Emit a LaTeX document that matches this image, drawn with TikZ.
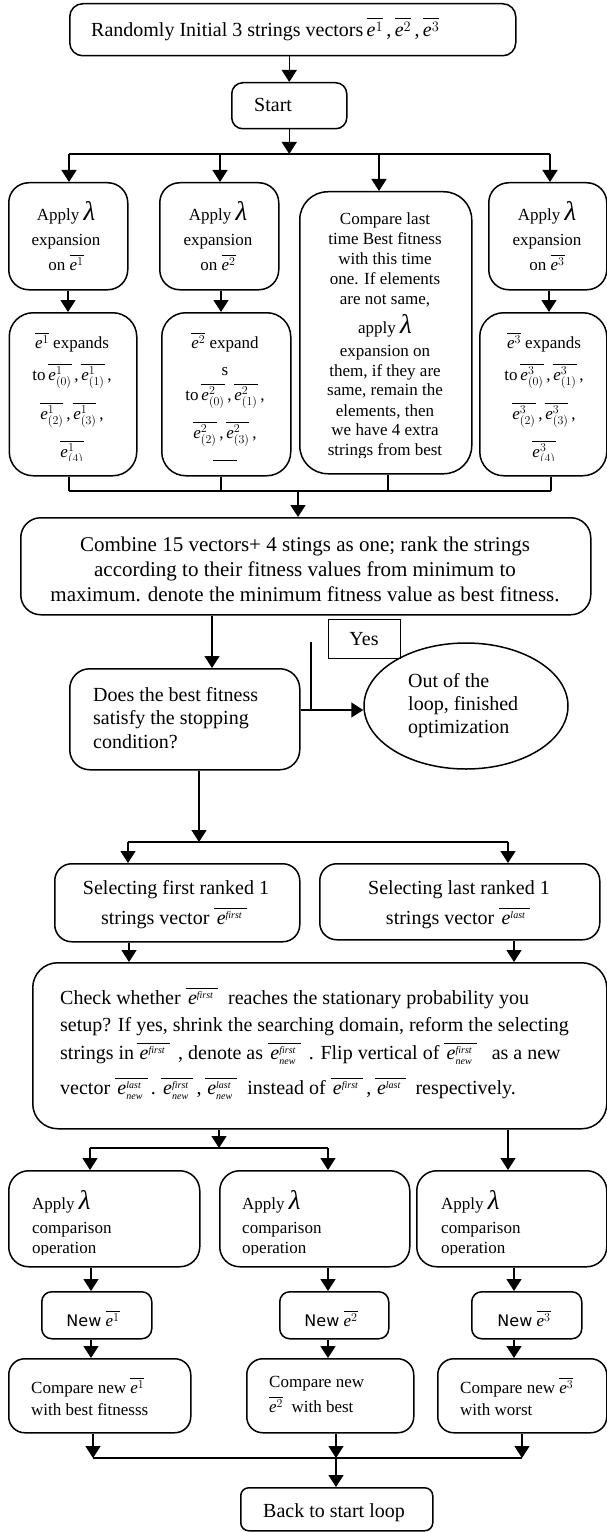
\documentclass[tikz,border=0pt]{standalone}
\usepackage{amsmath}
\usepackage{fontspec}
\setmainfont{Liberation Serif}
\newfontfamily\dejavu{DejaVu Sans}
\usetikzlibrary{arrows.meta,shapes.geometric}
\newcommand\ebar[1]{$\overline{\textit{e}^{#1}}$}
\newcommand\ebs[2]{$\overline{\textit{e}^{#1}_{#2}}$}
\newcommand\ebp[1]{$\overline{\mkern2mu\textit{e}^{#1}\mkern4mu}$}
\newcommand\ebsp[2]{$\overline{\mkern2mu\textit{e}^{#1}_{#2}\mkern4mu}$}
\newcommand\wfirst{{\scriptscriptstyle\textit{first}}}
\newcommand\wlast{{\scriptscriptstyle\textit{last}}}
\newcommand\wnew{{\scriptscriptstyle\textit{new}}}
\newcommand\mylam{{\fontsize{27}{27}\selectfont\textit{λ}}}
\newcommand\newword{{\dejavu\fontsize{16}{19}\selectfont New}}
\begin{document}
\begin{tikzpicture}[x=1pt,y=-1pt,
  rbox/.style={draw, line width=1.5pt, rounded corners=#1, inner sep=0pt, anchor=north west},
  rbox/.default=12pt,
  arr/.style={line width=1.5pt, -{Triangle[length=12pt,width=15pt]}},
  ln/.style={line width=1.5pt},
  tc/.style={inner sep=0pt, anchor=base},
  tl/.style={inner sep=0pt, anchor=base west},
  fa/.style={font=\fontsize{20}{24}\selectfont},
  fb/.style={font=\fontsize{17}{20}\selectfont},
  fc/.style={font=\fontsize{21}{25}\selectfont}]
\path[use as bounding box, fill=white] (0,0) rectangle (607,1533);

% ---------- boxes ----------
\node[rbox=13pt, minimum width=446pt, minimum height=52pt] (top) at (69,3) {};
\node[rbox=11pt, minimum width=115pt, minimum height=46pt] (start) at (231,82) {};
\node[rbox=20pt, minimum width=119pt, minimum height=107pt] (b1) at (8,182) {};
\node[rbox=20pt, minimum width=119pt, minimum height=107pt] (b2) at (159,182) {};
\node[rbox=28pt, minimum width=172pt, minimum height=282pt] (b3) at (299,191) {};
\node[rbox=20pt, minimum width=118pt, minimum height=107pt] (b4) at (488,182) {};
\node[rbox=24pt, minimum width=127.5pt, minimum height=163pt] (c1) at (8.5,312) {};
\node[rbox=24pt, minimum width=129pt, minimum height=163pt] (c2) at (161,312) {};
\node[rbox=24pt, minimum width=127pt, minimum height=163pt] (c4) at (479,312) {};
\node[rbox=20pt, minimum width=570pt, minimum height=97pt] (comb) at (20,517) {};
\node[draw, line width=1.3pt, inner sep=0pt, anchor=north west, minimum width=72pt, minimum height=39pt] (yes) at (328,619) {};
\node[rbox=20pt, minimum width=230pt, minimum height=101pt] (dec) at (69,668) {};
\node[draw, line width=1.5pt, ellipse, inner sep=0pt, minimum width=204pt, minimum height=126pt] (out) at (466,706) {};
\node[rbox=17pt, minimum width=245pt, minimum height=78pt] (s1) at (54,863) {};
\node[rbox=17pt, minimum width=280pt, minimum height=76pt] (s2) at (319,863) {};
\node[rbox=25pt, minimum width=574pt, minimum height=166pt] (chk) at (32,962) {};
\node[rbox=20pt, minimum width=191pt, minimum height=96pt] (ap1) at (8,1170) {};
\node[rbox=20pt, minimum width=190pt, minimum height=96pt] (ap2) at (219,1170) {};
\node[rbox=20pt, minimum width=190pt, minimum height=96pt] (ap3) at (416,1170) {};
\node[rbox=10pt, minimum width=110pt, minimum height=47pt] (new1) at (41,1291) {};
\node[rbox=10pt, minimum width=109pt, minimum height=47pt] (new2) at (279,1291) {};
\node[rbox=10pt, minimum width=110pt, minimum height=47pt] (new3) at (471,1291) {};
\node[rbox=16pt, minimum width=182pt, minimum height=74pt] (cmp1) at (8,1358) {};
\node[rbox=16pt, minimum width=167pt, minimum height=74pt] (cmp2) at (246,1358) {};
\node[rbox=16pt, minimum width=169pt, minimum height=74pt] (cmp3) at (437,1358) {};
\node[rbox=8pt, minimum width=192pt, minimum height=43pt] (back) at (240,1487) {};

% ---------- texts ----------
\node[tl,fa] (ttop) at (91,37) {Randomly Initial 3 strings vectors\,\ebar{1}\,,\,\ebar{2}\,,\,\ebar{3}};
\node[tl,fa] (tstart) at (254,112) {Start};

\node[tc,fb] (b1a) at (66,220) {Apply \mylam};
\node[tc,fb] (b1b) at (66,245) {expansion};
\node[tc,fb] (b1c) at (66,270) {on \ebar{1}};
\node[tc,fb] (b2a) at (218,220) {Apply \mylam};
\node[tc,fb] (b2b) at (218,245) {expansion};
\node[tc,fb] (b2c) at (218,270) {on \ebar{2}};
\node[tc,fb] (b4a) at (547,220) {Apply \mylam};
\node[tc,fb] (b4b) at (547,245) {expansion};
\node[tc,fb] (b4c) at (547,270) {on \ebar{3}};

\begin{scope}
\clip (299,191) rectangle (471,457);
\node[tc,fb] (b3a) at (385,224) {Compare last};
\node[tc,fb] (b3b) at (385,244) {time Best fitness};
\node[tc,fb] (b3c) at (385,264) {with this time};
\node[tc,fb] (b3d) at (385,284) {one. If elements};
\node[tc,fb] (b3e) at (385,304) {are not same,};
\node[tc,fb] (b3f) at (385,333) {apply \mylam};
\node[tc,fb] (b3g) at (385,356) {expansion on};
\node[tc,fb] (b3h) at (385,376) {them, if they are};
\node[tc,fb] (b3i) at (385,395) {same, remain the};
\node[tc,fb] (b3j) at (385,416) {elements, then};
\node[tc,fb] (b3k) at (385,435) {we have 4 extra};
\node[tc,fb] (b3l) at (385,455) {strings from best};
\end{scope}

\begin{scope}
\clip (8,312) rectangle (607,460);
\node[tc,fb] (c1a) at (72,348) {\ebar{1} expands};
\node[tc,fb] (c1b) at (72,380) {to\,\ebs{1}{(0)}\,,\,\ebs{1}{(1)}\,,};
\node[tc,fb] (c1c) at (72,419) {\ebs{1}{(2)}\,,\,\ebs{1}{(3)}\,,};
\node[tc,fb] (c1d) at (72,457) {\ebs{1}{(4)}};
\node[tc,fb] (c2a) at (225,348) {\ebar{2} expand};
\node[tc,fb] (c2b) at (225,375) {s};
\node[tc,fb] (c2c) at (225,400) {to\,\ebs{2}{(0)}\,,\,\ebs{2}{(1)}\,,};
\node[tc,fb] (c2d) at (225,438) {\ebs{2}{(2)}\,,\,\ebs{2}{(3)}\,,};
\node[tc,fb] (c2e) at (225,476) {\ebs{2}{(4)}};
\node[tc,fb] (c4a) at (544,348) {\ebar{3} expands};
\node[tc,fb] (c4b) at (544,380) {to\,\ebs{3}{(0)}\,,\,\ebs{3}{(1)}\,,};
\node[tc,fb] (c4c) at (544,419) {\ebs{3}{(2)}\,,\,\ebs{3}{(3)}\,,};
\node[tc,fb] (c4d) at (544,457) {\ebs{3}{(4)}};
\end{scope}

\node[tc,fc] (cm1) at (305,551) {Combine 15 vectors+ 4 stings as one; rank the strings};
\node[tc,fc] (cm2) at (305,576) {according to their fitness values from minimum to};
\node[tc,fc] (cm3) at (305,601) {maximum. denote the minimum fitness value as best fitness.};

\node[tc,fa] (tyes) at (364,645) {Yes};
\node[tl,fa] (d1) at (93,701) {Does the best fitness};
\node[tl,fa] (d2) at (93,724) {satisfy the stopping};
\node[tl,fa] (d3) at (93,748) {condition?};
\node[tl,fa] (o1) at (408,687) {Out of the};
\node[tl,fa] (o2) at (408,710) {loop, finished};
\node[tl,fa] (o3) at (408,733) {optimization};

\node[tc,fa] (s1a) at (176,894) {Selecting first ranked 1};
\node[tc,fa] (s1b) at (174,924) {strings vector\ \ebp{\wfirst}};
\node[tc,fa] (s2a) at (459,894) {Selecting last ranked 1};
\node[tc,fa] (s2b) at (458,924) {strings vector\ \ebp{\wlast}};

\node[tl,fa] (k1) at (60,1004) {Check whether \ebp{\wfirst}\ \ reaches the stationary probability you};
\node[tl,fa] (k2) at (60,1031) {setup? If yes, shrink the searching domain, reform the selecting};
\node[tl,fa] (k3) at (60,1059) {strings in\,\ebp{\wfirst}\ \,, denote as\ \ebsp{\wfirst}{\wnew}\ \,. Flip vertical of\ \ebsp{\wfirst}{\wnew}\ \ \ as a new};
\node[tl,fa] (k4) at (60,1094) {vector\ \ebsp{\wlast}{\wnew}\,.\ \ebsp{\wfirst}{\wnew}\,,\,\ebsp{\wlast}{\wnew}\ \ instead of\ \ebp{\wfirst}\,,\,\ebp{\wlast}\ \ respectively.};

\begin{scope}
\clip (0,1170) rectangle (607,1254);
\node[tl,fb] (p1a) at (32,1209) {Apply \mylam};
\node[tl,fb] (p1b) at (32,1233) {comparison};
\node[tl,fb] (p1c) at (32,1253) {operation};
\node[tl,fb] (p2a) at (242,1209) {Apply \mylam};
\node[tl,fb] (p2b) at (242,1233) {comparison};
\node[tl,fb] (p2c) at (242,1253) {operation};
\node[tl,fb] (p3a) at (441,1209) {Apply \mylam};
\node[tl,fb] (p3b) at (441,1233) {comparison};
\node[tl,fb] (p3c) at (441,1253) {operation};
\end{scope}

\node[tc,fb] (n1) at (93,1326) {\newword\ \ebar{1}};
\node[tc,fb] (n2) at (331,1326) {\newword\ \ebar{2}};
\node[tc,fb] (n3) at (524,1326) {\newword\ \ebar{3}};

\node[tl,fb] (q1a) at (31,1393) {Compare new \ebar{1}};
\node[tl,fb] (q1b) at (31,1415) {with best fitnesss};
\node[tl,fb] (q2a) at (269,1387) {Compare new};
\node[tl,fb] (q2b) at (269,1412) {\ebar{2}\ \ with best};
\node[tl,fb] (q3a) at (460,1393) {Compare new \ebar{3}};
\node[tl,fb] (q3b) at (460,1415) {with worst};

\node[tc,fa] (tback) at (334,1517) {Back to start loop};

% ---------- connectors ----------
\draw[arr] (top.south -| start.north) -- (start.north);
\coordinate (bA1) at (69,154);
\coordinate (bA2) at (220,154);
\coordinate (bA3) at (379,154);
\coordinate (bA4) at (550,154);
\draw[ln] (bA1) -- (bA4);
\draw[arr] (start.south) -- (start.south |- bA1);
\draw[arr] (bA1) -- (bA1 |- b1.north);
\draw[arr] (bA2) -- (bA2 |- b2.north);
\draw[arr] (bA3) -- (bA3 |- b3.north);
\draw[arr] (bA4) -- (bA4 |- b4.north);

\coordinate (xr1) at (68,300);
\coordinate (xr2) at (221,300);
\coordinate (xr4) at (549,300);
\draw[arr] (b1.south -| xr1) -- (c1.north -| xr1);
\draw[arr] (b2.south -| xr2) -- (c2.north -| xr2);
\draw[arr] (b4.south -| xr4) -- (c4.north -| xr4);

\coordinate (bB1) at (69,491);
\coordinate (bB2) at (221,491);
\coordinate (bB3) at (388,491);
\coordinate (bB4) at (551,491);
\coordinate (bB0) at (298,491);
\draw[ln] (c1.south -| bB1) -- (bB1);
\draw[ln] (c2.south -| bB2) -- (bB2);
\draw[ln] (b3.south -| bB3) -- (bB3);
\draw[ln] (c4.south -| bB4) -- (bB4);
\draw[ln] (bB1) -- (bB4);
\draw[arr] (bB0) -- (bB0 |- comb.north);

\coordinate (xcd) at (212,640);
\draw[arr] (comb.south -| xcd) -- (dec.north -| xcd);
\coordinate (st1) at (311,642);
\coordinate (st2) at (311,710);
\draw[ln] (st1) -- (st2);
\draw[arr] (dec.east |- st2) -- (out.west |- st2);

\coordinate (bC0) at (199,842);
\coordinate (bC1) at (128,842);
\coordinate (bC2) at (508,842);
\draw[arr] (dec.south -| bC0) -- (bC0);
\draw[ln] (bC1) -- (bC2);
\draw[arr] (bC1) -- (bC1 |- s1.north);
\draw[arr] (bC2) -- (bC2 |- s2.north);

\coordinate (xs1) at (129,950);
\coordinate (xs2) at (514,950);
\draw[arr] (s1.south -| xs1) -- (chk.north -| xs1);
\draw[arr] (s2.south -| xs2) -- (chk.north -| xs2);

\coordinate (bD0) at (219,1148);
\coordinate (bD1) at (90,1148);
\coordinate (bD2) at (328,1148);
\coordinate (bD3) at (508,1148);
\draw[arr] (chk.south -| bD0) -- (bD0);
\draw[ln] (bD1) -- (bD2);
\draw[arr] (bD1) -- (bD1 |- ap1.north);
\draw[arr] (bD2) -- (bD2 |- ap2.north);
\draw[arr] (chk.south -| bD3) -- (bD3 |- ap3.north);

\coordinate (xn1) at (91,1300);
\coordinate (xn2) at (328,1300);
\coordinate (xn3) at (514,1300);
\draw[arr] (ap1.south -| xn1) -- (new1.north -| xn1);
\draw[arr] (ap2.south -| xn2) -- (new2.north -| xn2);
\draw[arr] (ap3.south -| xn3) -- (new3.north -| xn3);
\draw[arr] (new1.south -| xn1) -- (cmp1.north -| xn1);
\draw[arr] (new2.south -| xn2) -- (cmp2.north -| xn2);
\draw[arr] (new3.south -| xn3) -- (cmp3.north -| xn3);

\coordinate (bE1) at (93,1458);
\coordinate (bE2) at (336,1458);
\coordinate (bE3) at (522,1458);
\draw[arr] (cmp1.south -| bE1) -- (bE1);
\draw[arr] (cmp2.south -| bE2) -- (bE2);
\draw[arr] (cmp3.south -| bE3) -- (bE3);
\draw[ln] (bE1) -- (bE3);
\draw[arr] (bE2) -- (bE2 |- back.north);
\end{tikzpicture}
\end{document}
